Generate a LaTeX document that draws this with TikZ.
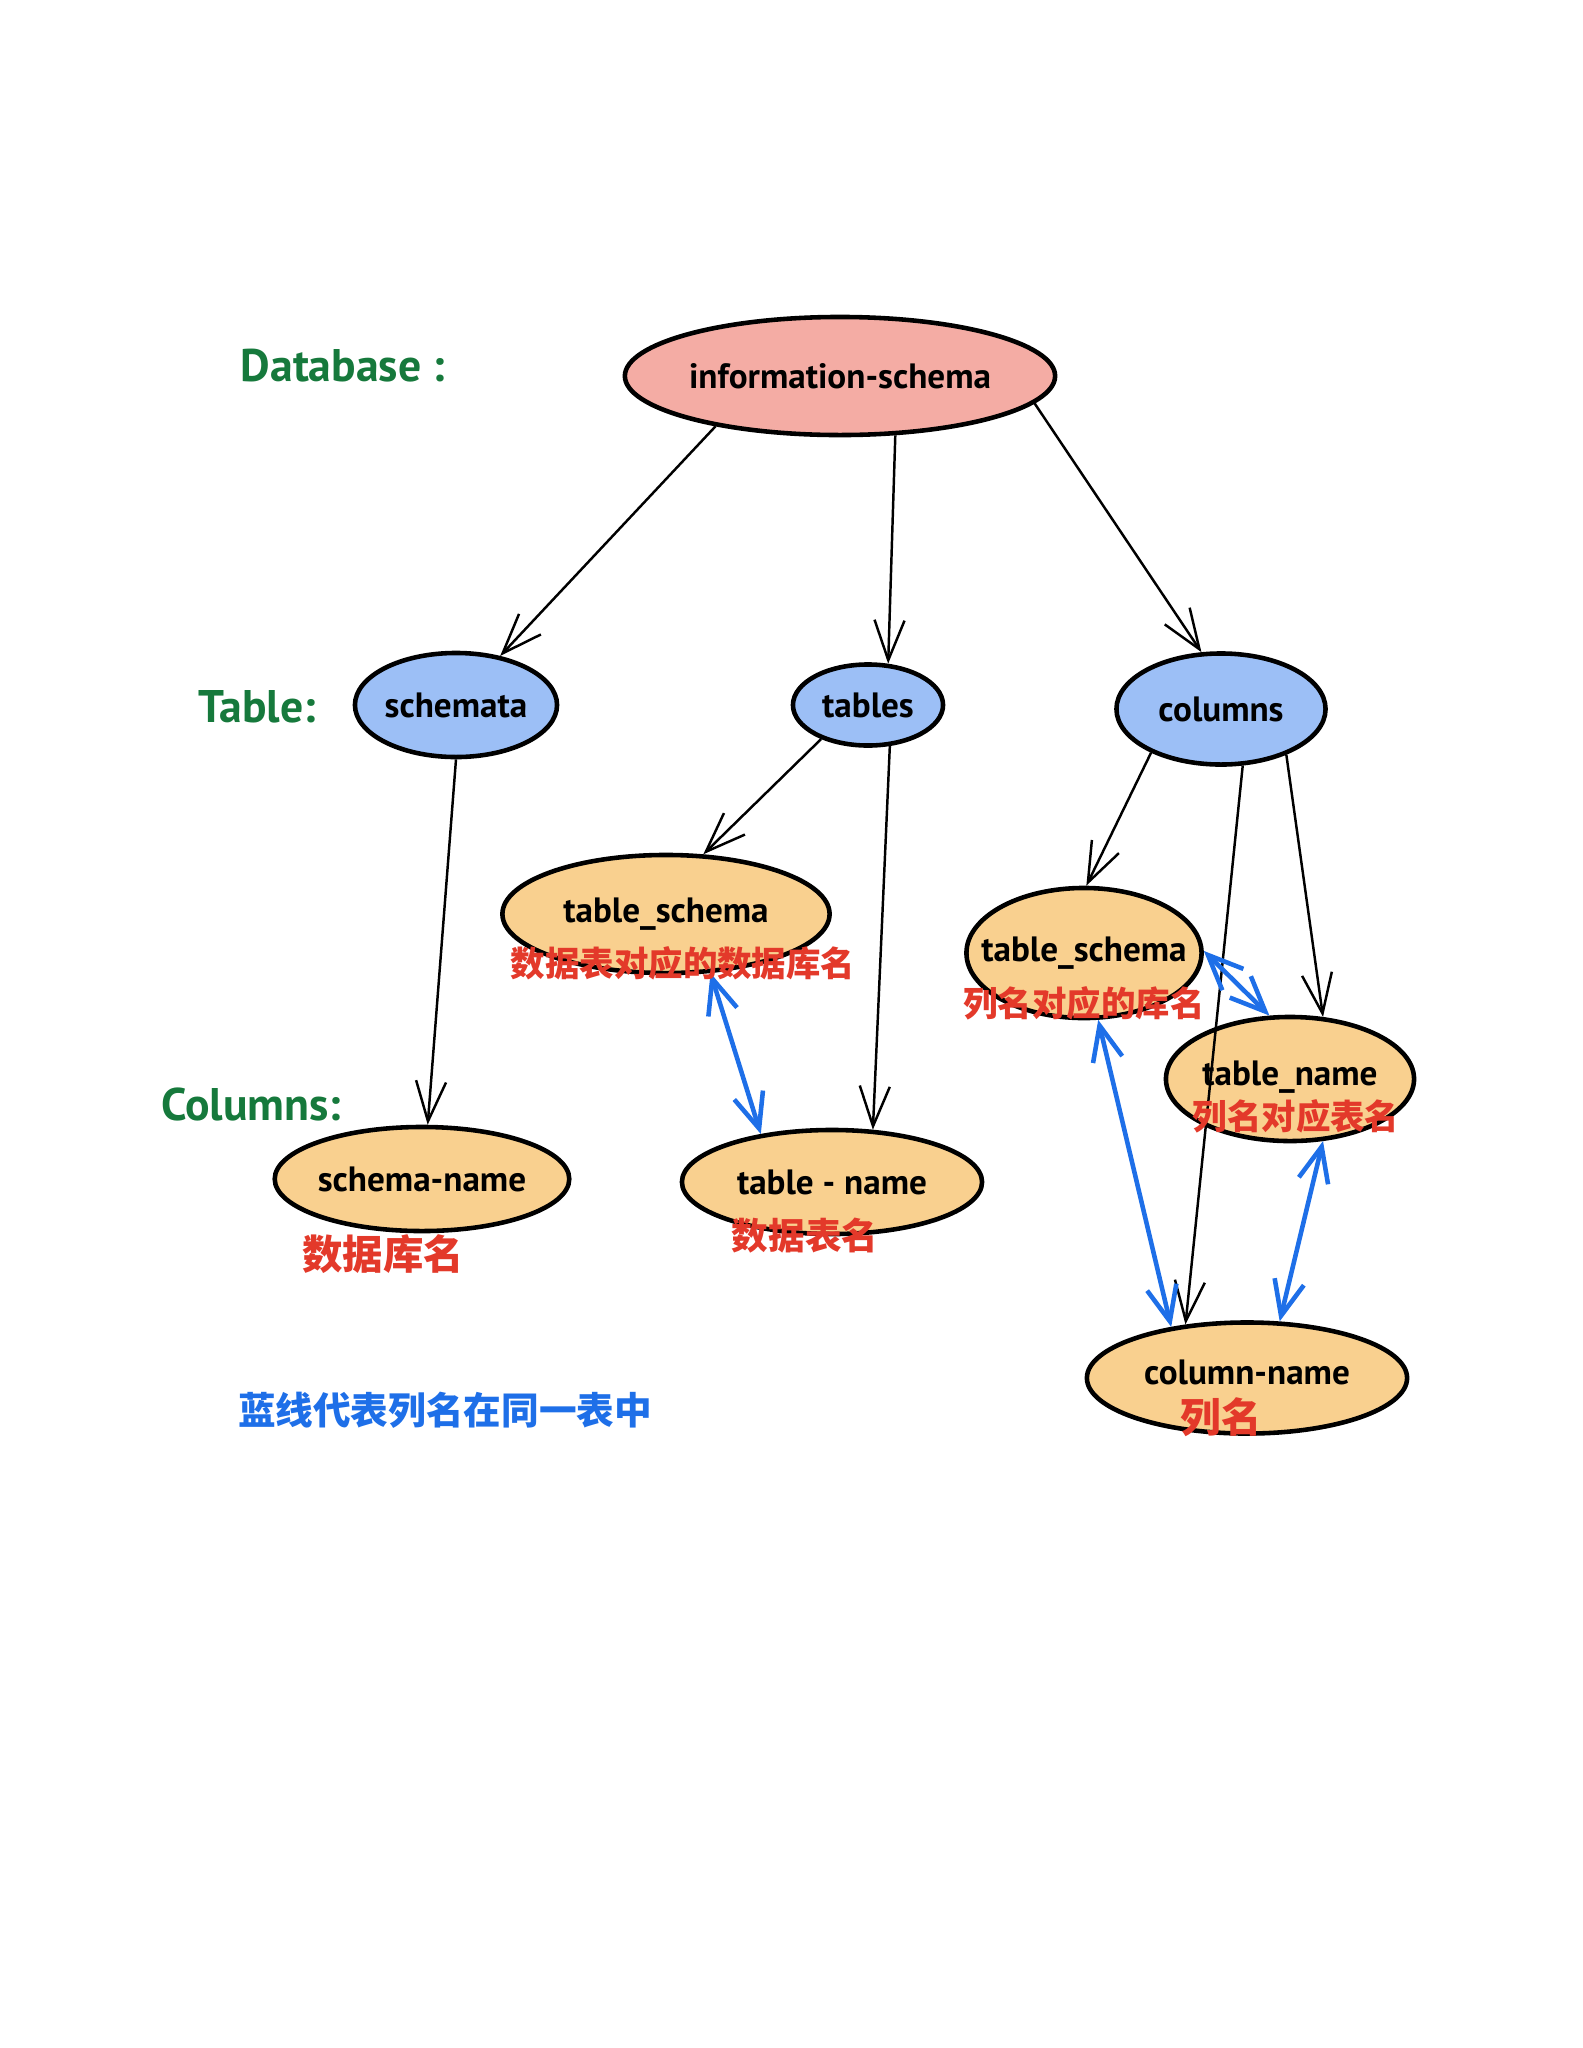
\documentclass[tikz,border=0pt]{standalone}
\usepackage{fontspec}
\setmainfont{PT Sans}
\newfontfamily\cjk{Noto Sans CJK SC}
\usetikzlibrary{shapes.geometric,arrows.meta}
\definecolor{pinkfill}{HTML}{F4ACA4}
\definecolor{bluefill}{HTML}{9CBFF6}
\definecolor{orangefill}{HTML}{F9D08F}
\definecolor{labgreen}{HTML}{16793C}
\definecolor{notered}{HTML}{E3392A}
\definecolor{lineblue}{HTML}{1E6FE8}

\begin{document}
\begin{tikzpicture}[x=0.01cm,y=-0.01cm,
    blob/.style={ellipse,draw=black,line width=1.3pt,inner sep=0pt,
                 font=\fontsize{10}{12}\selectfont\bfseries},
    level/.style={text=labgreen,font=\fontsize{13}{15}\selectfont\bfseries},
    note/.style={text=notered,font=\cjk\bfseries\fontsize{9.8}{11}\selectfont},
    link/.style={-{Straight Barb[length=4mm,width=3mm]},line width=0.7pt},
    same/.style={{Straight Barb[length=3.5mm,width=3mm]}-{Straight Barb[length=3.5mm,width=3mm]},
                 lineblue,line width=1.3pt}]
  \useasboundingbox (0,0) rectangle (1583,2048);

% level labels
  \node[level] (ldb)  at (343,366)  {Database :};
  \node[level] (ltab) at (257,707)  {Table:};
  \node[level] (lcol) at (251,1104) {Columns:};

% database
  \node[blob,fill=pinkfill,minimum width=4.3cm,minimum height=1.18cm] (info) at (840,376) {information-schema};

% tables
  \node[blob,fill=bluefill,minimum width=2.02cm,minimum height=1.04cm] (schemata) at (456,705)  {schemata};
  \node[blob,fill=bluefill,minimum width=1.50cm,minimum height=0.81cm] (tables)   at (868,705)  {tables};
  \node[blob,fill=bluefill,minimum width=2.09cm,minimum height=1.11cm] (columns)  at (1221,709) {columns};

% columns
  \node[blob,fill=orangefill,minimum width=2.94cm,minimum height=1.04cm] (schname)  at (422,1179)  {schema-name};
  \node[blob,fill=orangefill,minimum width=3.27cm,minimum height=1.18cm] (tschema)  at (666,914)   {table\_schema};
  \node[blob,fill=orangefill,minimum width=3.00cm,minimum height=1.04cm] (tname)    at (832,1182)  {table - name};
  \node[blob,fill=orangefill,inner xsep=-2.5mm,minimum width=2.35cm,minimum height=1.30cm] (ctschema) at (1084,953) {table\_schema};
  \node[blob,fill=orangefill,inner xsep=-1mm,minimum width=2.48cm,minimum height=1.24cm] (ctname) at (1290,1079) {\raisebox{1.2mm}{table\_name}};
  \node[blob,fill=orangefill,minimum width=3.20cm,minimum height=1.11cm] (cname)    at (1247,1378) {\raisebox{1.2mm}{column-name}};

% black arrows
  \draw[link] (info.202) -- (schemata.48);
  \draw[link] (info.313) -- (tables.64);
  \draw[link] (info.352) -- (columns.109);
  \draw[link] (schemata.270) -- (schname.84);
  \draw[link] (tables.216) -- (tschema.58);
  \draw[link] (tables.298) -- (tname.52);
  \draw[link] (columns.212) -- (ctschema.88);
  \draw[link] (columns.325) -- (ctname.62);
  \draw[link] (columns.291) -- (cname.139);

% blue arrows: same table
  \draw[same] (tschema.307) -- (tname.146);
  \draw[same] (ctschema.1) -- (ctname.108);
  \draw[same] (ctschema.282) -- (cname.146);
  \draw[same] (ctname.298) -- (cname.60);

% red notes
  \node[note] (n1) at (683,963)   {数据表对应的数据库名};
  \node[note] (n2) at (1084,1003) {列名对应的库名};
  \node[note] (n3) at (1296,1116) {列名对应表名};
  \node[note,font=\cjk\bfseries\fontsize{11.5}{13}\selectfont] (n4) at (383,1254) {数据库名};
  \node[note,font=\cjk\bfseries\fontsize{10.4}{12}\selectfont] (n5) at (805,1236)  {数据表名};
  \node[note,font=\cjk\bfseries\fontsize{11.5}{13}\selectfont] (n6) at (1221,1417) {列名};

% legend
  \node[text=lineblue,font=\cjk\bfseries\fontsize{10.7}{12}\selectfont] (legend) at (445,1410) {蓝线代表列名在同一表中};

\end{tikzpicture}
\end{document}
